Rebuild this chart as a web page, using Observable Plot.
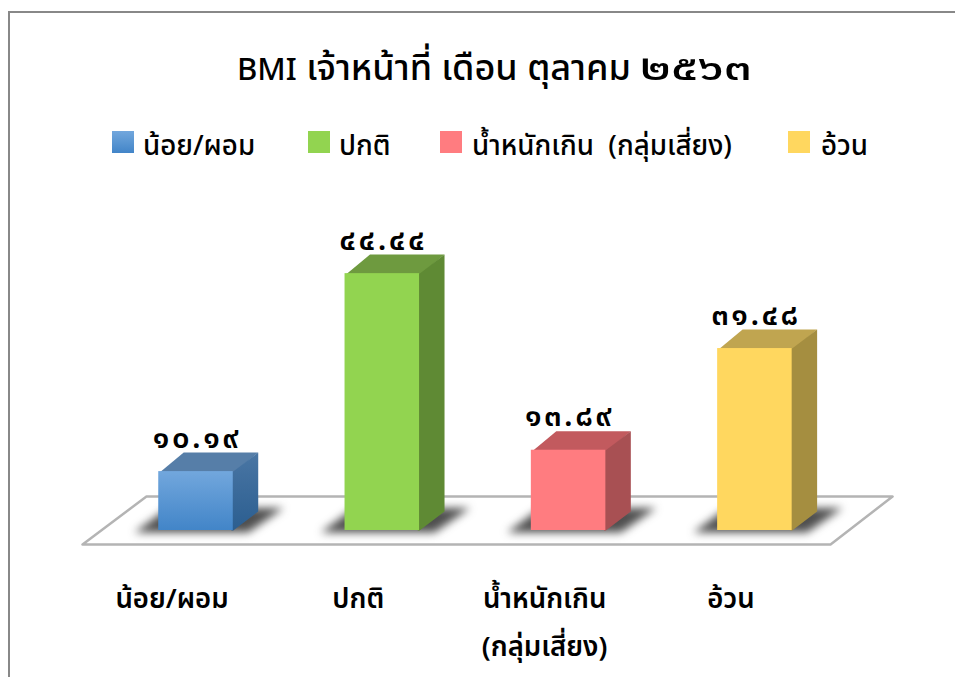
<!DOCTYPE html>
<html lang="th">
<head>
<meta charset="utf-8">
<script src="https://cdn.jsdelivr.net/npm/d3@7"></script>
<script src="https://cdn.jsdelivr.net/npm/@observablehq/plot@0.6"></script>
<style>
  html, body { margin: 0; padding: 0; background: #fff; }
  body { width: 955px; height: 677px; overflow: hidden; position: relative; font-family: "Noto Sans Thai", "Noto Sans", sans-serif; color: #000; }
  #frame { position: absolute; left: 8px; top: 11px; right: -4px; height: 680px; border-left: 2px solid #888; border-top: 2px solid #888; }
  #title { position: absolute; left: 237px; top: 41px; font-size: 36px; line-height: 56px; font-weight: 500; white-space: pre; }
  #title .latin { font-size: 31px; }
  #title .digits { display: inline-block; font-size: 36px; transform: scaleX(1.38); transform-origin: left center; }
  #legend { position: absolute; left: 0; top: 124px; height: 46px; width: 955px; font-size: 27.7px; font-weight: 500; line-height: 46px; }
  #legend .item { position: absolute; top: 0; white-space: pre; }
  #legend .swatch { position: absolute; top: 7px; width: 22px; height: 22px; }
  #chart { position: absolute; left: 0; top: 170px; }
  svg { display: block; overflow: visible; }
  .values text { letter-spacing: 2.5px; }
</style>
</head>
<body>
<div id="frame"></div>
<div id="title"><span class="latin">BMI</span> เจ้าหน้าที่ เดือน ตุลาคม <span class="digits">๒๕๖๓</span></div>
<div id="legend"></div>
<div id="chart"></div>
<script>
const categories = ["น้อย/ผอม", "ปกติ", "น้ำหนักเกิน", "อ้วน"];
const axisLabels = ["น้อย/ผอม", "ปกติ", "น้ำหนักเกิน\n(กลุ่มเสี่ยง)", "อ้วน"];
const legendLabels = ["น้อย/ผอม", "ปกติ", "น้ำหนักเกิน  (กลุ่มเสี่ยง)", "อ้วน"];
const values = [10.19, 44.44, 13.89, 31.48];
const frontColors = ["url(#blueFront)", "#92d450", "#ff7c80", "#ffd75f"];
const sideColors = ["url(#blueSide)", "#5f8a34", "#a85053", "#a58e40"];
const topColors = ["#567ea8", "#6e9a3f", "#c25a5e", "#c0a550"];
const swatchCss = ["linear-gradient(#72a7dd,#4285c8)", "#92d450", "#ff7c80", "#ffd75f"];
const swatchX = [112, 308, 440, 788];
const labelX = [143, 339, 472, 821];

const thaiDigits = "๐๑๒๓๔๕๖๗๘๙";
const toThai = v => v.toFixed(2).replace(/\d/g, c => thaiDigits[+c]);

// layout of the drawing in scale units
const halfW = 0.2, depthX = 0.134, depthY = 3.29;
const floor = [
  {x: -0.609, y: -2.42}, {x: 3.406, y: -2.42}, {x: 3.739, y: 5.88}, {x: -0.266, y: 5.88}, {x: -0.609, y: -2.42}
];

const table = categories.map((c, i) => ({c, i, v: values[i], label: toThai(values[i])}));

const poly = (pts, opts) => Plot.line(pts, {x: "x", y: "y", curve: "linear", strokeWidth: 0, stroke: "none", ...opts});

const marks = [
  () => {
    const defs = d3.create("svg:defs");
    const grad = (id, a, b) => {
      const g = defs.append("linearGradient").attr("id", id).attr("gradientUnits", "objectBoundingBox").attr("x1", 0).attr("x2", 0).attr("y1", 0).attr("y2", 1);
      g.append("stop").attr("offset", 0).attr("stop-color", a);
      g.append("stop").attr("offset", 1).attr("stop-color", b);
    };
    grad("blueFront", "#72a7dd", "#4285c8");
    grad("blueSide", "#4a76a4", "#2b5e90");
    return defs.node();
  },
  poly(floor, {fill: "#fff", stroke: "#b4b4b4", strokeWidth: 2.5}),
  ...table.map(d => poly([
    {x: d.i - halfW - 0.13, y: -0.35},
    {x: d.i + halfW + 0.08, y: -0.35},
    {x: d.i + halfW + 0.27, y: 3.9},
    {x: d.i - halfW + 0.05, y: 3.9}
  ], {fill: "#303030", fillOpacity: 0.85, imageFilter: "blur(4.5px)"})),
  Plot.text(table, {
    x: "i", y: "v", text: "label", dy: -24, dx: 1, lineAnchor: "bottom",
    fontSize: 31, fontWeight: 600, fill: "#000", className: "values"
  }),
  ...table.flatMap(d => {
    const l = d.i - halfW, r = d.i + halfW;
    return [
      poly([{x: l, y: d.v - 0.3}, {x: r, y: d.v - 0.3}, {x: r + depthX, y: d.v + depthY}, {x: l + depthX, y: d.v + depthY}],
        {fill: topColors[d.i], imageFilter: "blur(0.5px)"}),
      poly([{x: r - 0.01, y: 0}, {x: r, y: 0}, {x: r + depthX, y: depthY}, {x: r + depthX, y: d.v + depthY}, {x: r, y: d.v}, {x: r - 0.01, y: d.v}],
        {fill: sideColors[d.i], imageFilter: "blur(0.5px)"}),
      Plot.rectY([d], {x1: l, x2: r, y1: 0, y2: "v", fill: frontColors[d.i], imageFilter: "blur(0.5px)"})
    ];
  }),
  Plot.axisX({
    ticks: [0, 1, 2, 3],
    tickFormat: i => axisLabels[i],
    tickSize: 0,
    tickPadding: 43,
    dx: -24,
    lineAnchor: "top",
    lineHeight: 1.75,
    fontSize: 27.5,
    fontWeight: 600,
    fill: "#000",
    label: null
  })
];

const plot = Plot.plot({
  width: 955,
  height: 507,
  marginTop: 0, marginRight: 0, marginBottom: 147, marginLeft: 0,
  style: {background: "transparent", fontFamily: "'Noto Sans Thai','Noto Sans',sans-serif", overflow: "visible"},
  x: {type: "linear", domain: [-195.5 / 186.3, (955 - 195.5) / 186.3], axis: null},
  y: {type: "linear", domain: [0, 360 / 5.78], axis: null},
  marks
});
document.getElementById("chart").append(plot);

const legend = document.getElementById("legend");
legendLabels.forEach((t, i) => {
  const s = document.createElement("div");
  s.className = "swatch";
  s.style.left = swatchX[i] + "px";
  s.style.background = swatchCss[i];
  legend.append(s);
  const e = document.createElement("div");
  e.className = "item";
  e.style.left = labelX[i] + "px";
  e.textContent = t;
  legend.append(e);
});
</script>
</body>
</html>
